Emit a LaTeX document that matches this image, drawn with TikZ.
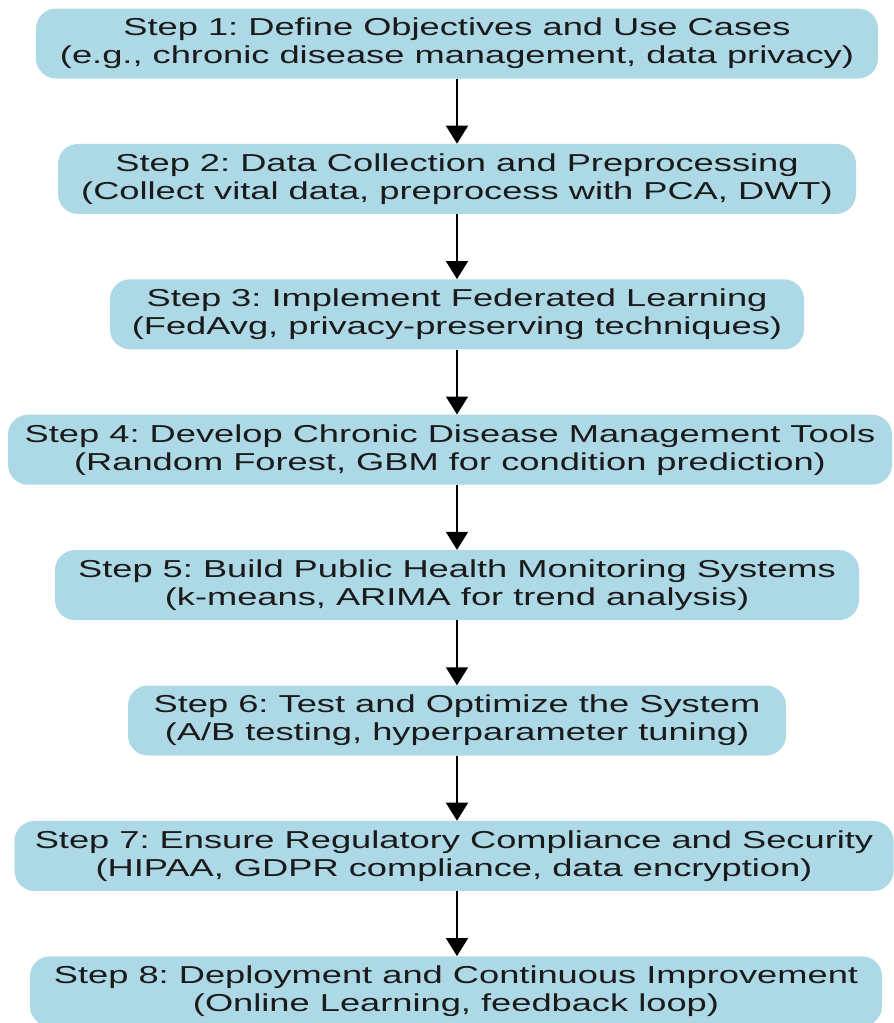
\documentclass[tikz,border=0pt]{standalone}
\usepackage{fontspec}
\setmainfont{Liberation Sans}[FakeStretch=1.48]
\usepackage{xcolor}
\usepackage{tikz}
\usetikzlibrary{arrows.meta, positioning}
\definecolor{stepfill}{HTML}{ADD8E6}
\definecolor{ink}{HTML}{1A1A1A}
\tikzset{
  stepbox/.style = {rectangle, rounded corners=20pt, fill=stepfill, text=ink, align=center,
                    minimum height=70pt, inner xsep=0pt, inner ysep=3pt,
                    font=\fontsize{24.5}{28}\selectfont\frenchspacing},
  flow/.style    = {-{Triangle[length=18pt, width=22pt]}, draw=black, line width=1.6pt},
}

\begin{document}
\begin{tikzpicture}[node distance=65pt]
  \useasboundingbox (0pt,0pt) rectangle (894pt,-1023pt);

  \node[stepbox, minimum width=842pt] (s1) at (457pt,-43.5pt) {Step 1: Define Objectives and Use Cases\\(e.g., chronic disease management, data privacy)};
  \node[stepbox, minimum width=798pt, below=of s1] (s2) {Step 2: Data Collection and Preprocessing\\(Collect vital data, preprocess with PCA, DWT)};
  \node[stepbox, minimum width=694pt, below=of s2] (s3) {Step 3: Implement Federated Learning\\(FedAvg, privacy-preserving techniques)};
  \node[stepbox, minimum width=884pt, below=of s3, xshift=-7pt] (s4) {Step 4: Develop Chronic Disease Management Tools\\(Random Forest, GBM for condition prediction)};
  \node[stepbox, minimum width=804pt, below=of s4, xshift=7pt] (s5) {Step 5: Build Public Health Monitoring Systems\\(k-means, ARIMA for trend analysis)};
  \node[stepbox, minimum width=658pt, below=of s5] (s6) {Step 6: Test and Optimize the System\\(A/B testing, hyperparameter tuning)};
  \node[stepbox, minimum width=879pt, below=of s6, xshift=-3pt] (s7) {Step 7: Ensure Regulatory Compliance and Security\\(HIPAA, GDPR compliance, data encryption)};
  \node[stepbox, minimum width=852pt, below=of s7, xshift=2pt] (s8) {Step 8: Deployment and Continuous Improvement\\(Online Learning, feedback loop)};

  \draw[flow] (s1) -- (s1 |- s2.north);
  \draw[flow] (s2) -- (s2 |- s3.north);
  \draw[flow] (s3) -- (s3 |- s4.north);
  \draw[flow] (s3 |- s4.south) -- (s3 |- s5.north);
  \draw[flow] (s5) -- (s5 |- s6.north);
  \draw[flow] (s6) -- (s6 |- s7.north);
  \draw[flow] (s6 |- s7.south) -- (s6 |- s8.north);
\end{tikzpicture}
\end{document}
